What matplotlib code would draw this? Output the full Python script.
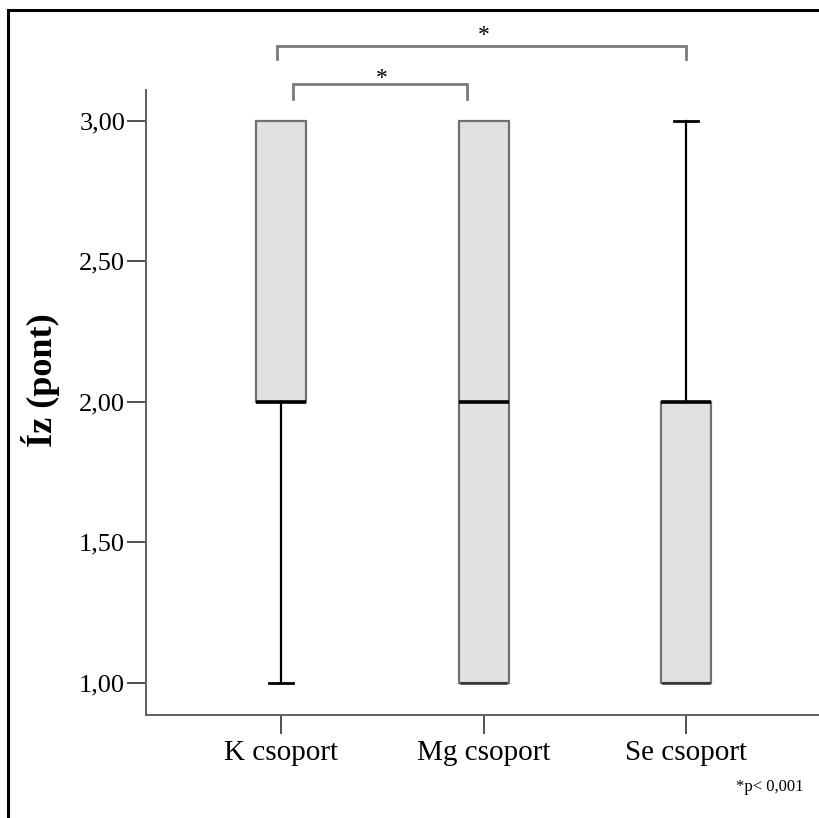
import matplotlib
matplotlib.use('Agg')
import matplotlib.pyplot as plt
from matplotlib.lines import Line2D
from matplotlib.ticker import FuncFormatter

plt.rcParams['font.family'] = ['Liberation Serif', 'DejaVu Serif']

# ── Data (Íz score per group, five-number summaries) ──────────────────────────
groups = ['K csoport', 'Mg csoport', 'Se csoport']
whislo = [1.0, 1.0, 1.0]
q1     = [2.0, 1.0, 1.0]
med    = [2.0, 2.0, 2.0]
q3     = [3.0, 3.0, 2.0]
whishi = [3.0, 3.0, 3.0]
yticks = [1.0, 1.5, 2.0, 2.5, 3.0]

# significance brackets: (left group, right group, label)
sig_pairs = [(0, 2, '*'), (0, 1, '*')]
p_note = '*p< 0,001'

W, H = 819, 818
fig = plt.figure(figsize=(W / 100, H / 100), dpi=100)
fig.patch.set_facecolor('white')

# outer frame (runs off the right and bottom edge)
fr = dict(color='black', lw=2.2, transform=fig.transFigure)
fig.add_artist(Line2D([8 / W, 1.01], [1 - 10 / H, 1 - 10 / H], **fr))
fig.add_artist(Line2D([8 / W, 8 / W], [1 - 10 / H, -0.01], **fr))

ax = fig.add_axes([146 / W, (H - 715) / H, (W - 146) / W, (715 - 90) / H])

box_w = 0.247
stats = [dict(whislo=whislo[i], q1=q1[i], med=med[i], q3=q3[i],
              whishi=whishi[i], fliers=[], label=groups[i])
         for i in range(len(groups))]
bp = ax.bxp(stats, positions=range(len(groups)), widths=box_w, patch_artist=True,
            showfliers=False,
            boxprops=dict(facecolor='#e1e1e1', edgecolor='#707070', lw=1.6),
            medianprops=dict(color='black', lw=2.6, solid_capstyle='butt'),
            whiskerprops=dict(color='black', lw=1.6),
            capprops=dict(color='black', lw=2.0),
            capwidths=0.12)

# zero-length whiskers: upper cap disappears into the box edge,
# lower cap runs across the box bottom
for i in range(len(groups)):
    lo_cap, hi_cap = bp['caps'][2 * i], bp['caps'][2 * i + 1]
    if whishi[i] == q3[i]:
        hi_cap.set_visible(False)
    if whislo[i] == q1[i]:
        lo_cap.set_xdata([i - box_w / 2 + 0.01, i + box_w / 2 - 0.01])
        lo_cap.set_color('#303030')
        lo_cap.set_linewidth(1.8)

ax.set_xlim(-0.667, 2.657)
ax.set_ylim(0.886, 3.110)
ax.set_yticks(yticks)
ax.yaxis.set_major_formatter(FuncFormatter(lambda v, p: f'{v:.2f}'.replace('.', ',')))
ax.set_xticks(range(len(groups)))
ax.set_xticklabels(groups, fontsize=21)

for s in ['top', 'right']:
    ax.spines[s].set_visible(False)
for s in ['left', 'bottom']:
    ax.spines[s].set_color('#606060')
    ax.spines[s].set_linewidth(1.4)
ax.tick_params(axis='y', length=14, width=1.4, color='#505050', labelsize=19, pad=1)
ax.tick_params(axis='x', length=14, width=1.4, color='#505050', pad=4)

fig.text(40 / W, 1 - 380 / H, 'Íz (pont)', rotation=90, fontsize=26,
         fontweight='bold', ha='center', va='center')

# significance brackets above the plot area
br_levels = [(3.267, 3.221, 3.303), (3.132, 3.078, 3.150)]
br_x = [(-0.02, 2.0), (0.06, 0.92)]
for (a, b, lab), (yh, yl, ys), (x0, x1) in zip(sig_pairs, br_levels, br_x):
    ax.plot([x0, x0, x1, x1], [yl, yh, yh, yl], color='#7a7a7a', lw=2.0,
            clip_on=False, solid_joinstyle='miter')
    ax.text((a + b) / 2, ys, lab, ha='center', va='center', fontsize=17)

fig.text(804 / W, 1 - 787 / H, p_note, ha='right', va='center', fontsize=12)

fig.savefig('out.png', dpi=100)
